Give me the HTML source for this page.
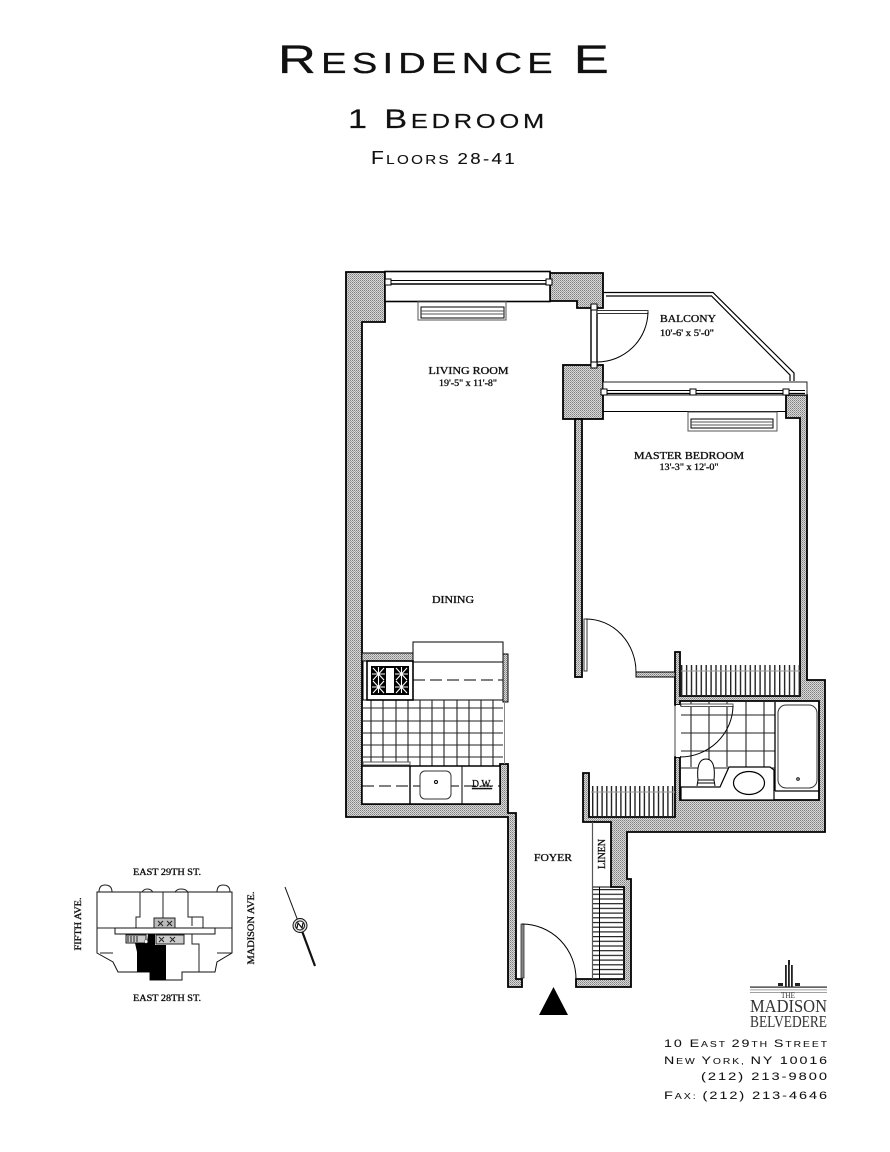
<!DOCTYPE html>
<html><head><meta charset="utf-8"><style>
html,body{margin:0;padding:0;background:#fff}
svg{display:block}
.t{font-family:"Liberation Sans",sans-serif;fill:#111;stroke:#111;stroke-width:.3}
.s{font-family:"Liberation Serif",serif;fill:#111;stroke:#111;stroke-width:.35}
</style></head><body>
<svg width="890" height="1152" viewBox="0 0 890 1152" xmlns="http://www.w3.org/2000/svg">
<defs>
<pattern id="g" width="2" height="2" patternUnits="userSpaceOnUse"><rect width="2" height="2" fill="#d8d8d8"/><rect width="1" height="1" fill="#808080"/><rect x="1" y="1" width="1" height="1" fill="#a0a0a0"/></pattern>
<pattern id="v5" x="681" width="4.9" height="10" patternUnits="userSpaceOnUse"><rect width="1.400" height="10" fill="#222"/></pattern>
<pattern id="v4" x="592" width="4.7" height="10" patternUnits="userSpaceOnUse"><rect width="1.400" height="10" fill="#222"/></pattern>
<pattern id="h4" y="889" width="10" height="4.7" patternUnits="userSpaceOnUse"><rect width="10" height="1.200" fill="#222"/></pattern>
</defs>
<rect width="890" height="1152" fill="#fff"/>

<!-- titles -->
<text class="t" x="278" y="73" textLength="336" lengthAdjust="spacingAndGlyphs" font-size="29" letter-spacing="4"><tspan font-size="40">R</tspan>ESIDENCE <tspan font-size="40">E</tspan></text>
<text class="t" style="stroke-width:.2" x="348" y="128" textLength="200" lengthAdjust="spacingAndGlyphs" font-size="20" letter-spacing="3"><tspan font-size="27">1 B</tspan>EDROOM</text>
<text class="t" style="stroke-width:.1" x="371" y="164" textLength="146" lengthAdjust="spacingAndGlyphs" font-size="13" letter-spacing="2"><tspan font-size="18">F</tspan>LOORS <tspan font-size="16">28-41</tspan></text>

<g stroke="#000" stroke-width="1.8" fill="url(#g)">
<polygon points="346,272 385,272 385,322 362,322 362,804 500,804 500,764 508,764 508,813 516,813 516,979 522,979 522,987 508,987 508,817 346,817"/>
<polygon points="786,395 807,395 807,680 825,680 825,832 627,832 627,879 631,879 631,987 576,987 576,979 624,979 624,887 611,887 611,822 583,822 583,773 589,773 589,817 675,817 675,757 680,757 680,800 819,800 819,701 680,701 680,705 675,705 675,652 680,652 680,696 800,696 800,418 786,418"/>
<polygon points="550,273 603,273 603,308 577,308 577,301 550,301"/>
<rect x="563" y="365" width="40" height="54"/>
<rect x="575" y="419" width="7" height="258"/>
<rect x="636" y="672" width="39" height="5" stroke-width="1"/>
<rect x="362" y="653" width="51" height="8" stroke-width="1"/>
<rect x="503" y="654" width="5" height="48" stroke-width="1"/>
</g>

<g fill="none" stroke="#000" stroke-width="1">
<rect x="385" y="271.500" width="165" height="30" fill="#fff" stroke-width="1.600"/>
<line x1="389" y1="280.500" x2="548" y2="280.500"/><line x1="389" y1="284" x2="548" y2="284" stroke-width="1.500"/>
<rect x="385" y="279" width="6" height="6" fill="#fff"/><rect x="546" y="279" width="6" height="6" fill="#fff"/>
<rect x="418" y="301" width="88" height="19" stroke="#555"/>
<rect x="421" y="307" width="83" height="11"/>
<line x1="421" y1="311" x2="504" y2="311" stroke="#555"/><line x1="421" y1="314" x2="504" y2="314" stroke="#555"/>
<rect x="591" y="306" width="6" height="60" fill="#fff" stroke-width="1.400"/>
<rect x="591" y="304" width="6" height="6" fill="#fff"/><rect x="591" y="362" width="6" height="6" fill="#fff"/>
<rect x="597" y="310.500" width="51" height="3" fill="#fff" stroke="#333"/>
<path d="M648 312 A51 51 0 0 1 597 362"/>
<path d="M604 292.500 H713 L794 373 V381" stroke-width="1.200"/>
<path d="M606 296 H711.500 L790 375 V381" stroke-width="1.200"/>
<rect x="603" y="382" width="204" height="13" fill="#fff" stroke-width="1" stroke="#222"/>
<line x1="603" y1="411.500" x2="786" y2="411.500"/>
<line x1="603" y1="390.500" x2="805" y2="390.500"/><line x1="603" y1="393.500" x2="805" y2="393.500" stroke-width="1.300"/>
<rect x="601" y="389" width="6" height="6" fill="#fff"/><rect x="690" y="389" width="6" height="6" fill="#fff"/><rect x="783" y="389" width="6" height="6" fill="#fff"/>
<rect x="688" y="412" width="89" height="19" stroke="#555"/>
<rect x="691" y="419" width="82" height="9"/>
<line x1="691" y1="422" x2="773" y2="422" stroke="#555"/><line x1="691" y1="425" x2="773" y2="425" stroke="#555"/>
<rect x="584" y="619" width="3" height="52" fill="#fff" stroke="#333"/>
<path d="M586 619 A50 53 0 0 1 636 672"/>
<rect x="413" y="642" width="90" height="58"/>
<line x1="413" y1="662" x2="503" y2="662"/>
<line x1="413" y1="680" x2="503" y2="680" stroke-dasharray="12 5"/>
<rect x="363" y="661" width="50" height="39"/>
<path d="M371 700V766M383 700V766M396 700V766M408 700V766M420 700V766M432 700V766M444 700V766M457 700V766M469 700V766M481 700V766M493 700V766M362 708H503M362 721H503M362 733H503M362 745H503M362 757H503" stroke="#222" stroke-width="1.100"/>
<line x1="504.500" y1="702" x2="504.500" y2="764" stroke="#888"/>
<rect x="362" y="766" width="138" height="38" fill="#fff" stroke-width="1.500"/>
<rect x="363" y="762" width="47" height="3" fill="#fff" stroke="#555"/>
<line x1="410" y1="766" x2="410" y2="804" stroke-width="1.400"/>
<line x1="462" y1="766" x2="462" y2="804"/>
<line x1="362" y1="786" x2="500" y2="786" stroke-dasharray="12 5"/>
<rect x="420" y="771" width="31" height="28" rx="5" fill="#fff" stroke="#333"/>
<circle cx="436" cy="782" r="1.500"/>
</g>
<rect x="367" y="661" width="46" height="39" fill="#fff" stroke="#000" stroke-width="1.600"/>
<rect x="371" y="666" width="38" height="29" fill="#000"/>
<rect x="386" y="668" width="8" height="25" fill="#fff"/>
<g stroke="#fff" stroke-width="1.100" fill="none">
<path d="M373 668L384 680M384 668L373 680M378.500 667V693M372 674H385M372 687H385M373 681L384 693M384 681L373 693"/>
<path d="M396 668L407 680M407 668L396 680M401.500 667V693M395 674H408M395 687H408M396 681L407 693M407 681L396 693"/>
</g>

<rect x="681" y="665" width="119" height="31" fill="url(#v5)"/>
<line x1="681" y1="671" x2="800" y2="671" stroke="#999"/>
<rect x="591" y="786" width="84" height="31" fill="url(#v4)"/>
<line x1="591" y1="792" x2="675" y2="792" stroke="#999"/>
<rect x="593" y="889" width="31" height="90" fill="url(#h4)"/>
<line x1="599.500" y1="887" x2="599.500" y2="979" stroke="#000"/>
<line x1="592.500" y1="822" x2="592.500" y2="979" stroke="#555" stroke-width="1.200"/>
<line x1="593" y1="887" x2="624" y2="887" stroke="#000"/>

<g fill="none" stroke="#000" stroke-width="1">
<path d="M691 701V767M709 701V767M727 701V767M746 701V767M764 701V767M681 715H775M681 733H775M681 751H775M681 768H775" stroke="#222" stroke-width="1.100"/>
<line x1="775" y1="702" x2="775" y2="791" stroke-width="1.300"/>
<line x1="775" y1="791" x2="819" y2="791" stroke-width="1.300"/>
<rect x="778" y="705" width="39" height="83" rx="8" fill="#fff" stroke="#333"/>
<circle cx="798" cy="779" r="1.300"/>
<rect x="681" y="704" width="52" height="2.500" fill="#fff" stroke="#555"/>
<path d="M733 706 A53 52 0 0 1 680 757"/>
<path d="M681 787 H720 L729 767 H770 L774 770 V800 H681 Z" fill="#fff" stroke-width="1.200"/>
<ellipse cx="749" cy="783" rx="15.500" ry="11.500" fill="#fff" stroke-width="1.200"/>
<path d="M698 780 Q696 759 706 759 Q716 759 714 780 Z" fill="#fff"/>
<path d="M698 780 L697 786 M714 780 L715 786 M698 783 H714"/>
</g>
<rect x="676" y="705" width="4" height="52" fill="#fff"/>
<line x1="675" y1="705" x2="675" y2="757" stroke="#444"/>

<rect x="521" y="924" width="3" height="54" fill="#888" stroke="#333" stroke-width=".8"/>
<path d="M522 924 A54 55 0 0 1 576 979" fill="none" stroke="#000"/>
<polygon points="553.500,987 539,1015 568,1015" fill="#000"/>

<g class="s">
<text x="468.500" y="374" text-anchor="middle" font-size="10.500" textLength="80" lengthAdjust="spacingAndGlyphs">LIVING ROOM</text>
<text x="468" y="386" text-anchor="middle" font-size="9.500" textLength="58" lengthAdjust="spacingAndGlyphs">19'-5" x 11'-8"</text>
<text x="688" y="322" text-anchor="middle" font-size="10.500" textLength="56" lengthAdjust="spacingAndGlyphs">BALCONY</text>
<text x="687" y="336" text-anchor="middle" font-size="9.500" textLength="54" lengthAdjust="spacingAndGlyphs">10'-6' x 5'-0"</text>
<text x="689" y="459" text-anchor="middle" font-size="10.500" textLength="110" lengthAdjust="spacingAndGlyphs">MASTER BEDROOM</text>
<text x="689" y="470" text-anchor="middle" font-size="9.500" textLength="59" lengthAdjust="spacingAndGlyphs">13'-3" x 12'-0"</text>
<text x="453" y="603" text-anchor="middle" font-size="10.500" textLength="42" lengthAdjust="spacingAndGlyphs">DINING</text>
<text x="553" y="861" text-anchor="middle" font-size="10.500" textLength="38" lengthAdjust="spacingAndGlyphs">FOYER</text>
<text transform="translate(605,854) rotate(-90)" text-anchor="middle" font-size="10" textLength="30" lengthAdjust="spacingAndGlyphs">LINEN</text>
<text x="482" y="787" text-anchor="middle" font-size="11" textLength="20" lengthAdjust="spacingAndGlyphs" text-decoration="underline">D.W.</text>
<text x="167" y="875" text-anchor="middle" font-size="9.500" textLength="68" lengthAdjust="spacingAndGlyphs">EAST 29TH ST.</text>
<text x="167" y="1001" text-anchor="middle" font-size="9.500" textLength="68" lengthAdjust="spacingAndGlyphs">EAST 28TH ST.</text>
<text transform="translate(81,924) rotate(-90)" text-anchor="middle" font-size="9.500" textLength="53" lengthAdjust="spacingAndGlyphs">FIFTH AVE.</text>
<text transform="translate(254,928) rotate(-90)" text-anchor="middle" font-size="9.500" textLength="73" lengthAdjust="spacingAndGlyphs">MADISON AVE.</text>
</g>

<g fill="none" stroke="#222" stroke-width="1">
<path d="M99 892 Q99 885 105 885 Q112 885 112 892M217 892 Q217 885 223 885 Q230 885 230 892M142 892 Q144 889 147 889 Q152 889 153 893M175 892 Q177 889 181 889 Q187 889 188 893"/>
<polygon points="97,892 232,892 232,953 217,962 215,972 182,972 182,980 150,980 150,972 118,972 113,962 97,953" fill="#fff" stroke="#111"/>
<path d="M97 928H115M215 928H232M163 892V918M140 892V917H136V928M188 892V917H192V926M192 917H203V928M192 934V944H199V972M100 953H113M217 953H232"/>
<rect x="115" y="928" width="100" height="6" fill="#fff" stroke="#111"/>
<rect x="154" y="918" width="21" height="10" fill="#bbb"/>
<rect x="126" y="935" width="20" height="8" fill="#ccc"/>
<rect x="156" y="935" width="28" height="9" fill="#ccc"/>
<path d="M158 921l5 5m0-5l-5 5M167 921l5 5m0-5l-5 5M159 937l5 5m0-5l-5 5M170 937l5 5m0-5l-5 5M128 936v6M131 936v6M134 936v6M137 936v6" stroke="#222"/>
</g>
<polygon points="148,934 155,934 155,945 166,945 166,980 150,980 150,972 137,972 137,952 135,943 147,943" fill="#000"/>
<circle cx="146" cy="941.500" r="1.800" fill="#fff" stroke="#333" stroke-width=".5"/>
<g fill="none" stroke="#111">
<line x1="285" y1="887" x2="298" y2="921" stroke-width="1"/>
<line x1="302" y1="931" x2="315" y2="966" stroke-width="2.200"/>
<circle cx="300" cy="925.500" r="7" fill="#ddd" stroke-width="1"/>
<circle cx="300" cy="925.500" r="4.500" fill="#fff" stroke-width="1"/>
<path d="M297 928L298 923L302 928L303 923" stroke-width="1.200"/>
</g>

<g fill="#222">
<rect x="750" y="986.500" width="77" height="1.200"/>
<rect x="750" y="989.500" width="77" height=".8" fill="#888"/>
<rect x="750" y="992" width="77" height=".8" fill="#888"/>
<rect x="788" y="960" width="2" height="5"/>
<rect x="785" y="965" width="1.800" height="22"/>
<rect x="788" y="964" width="1.800" height="23"/>
<rect x="791" y="965" width="1.800" height="22"/>
<rect x="778" y="983" width="5" height="3"/><rect x="795" y="983" width="5" height="3"/>
</g>
<g font-family="'Liberation Serif',serif" fill="#333" text-anchor="middle">
<text x="788" y="998" font-size="8.500" textLength="14" lengthAdjust="spacingAndGlyphs">THE</text>
<text x="788.500" y="1012" font-size="18" textLength="77" lengthAdjust="spacingAndGlyphs">MADISON</text>
<text x="788.500" y="1027" font-size="17" textLength="77" lengthAdjust="spacingAndGlyphs">BELVEDERE</text>
</g>
<g class="t" style="stroke-width:.05" font-size="8" letter-spacing="1.500">
<text x="664" y="1047" textLength="165" lengthAdjust="spacingAndGlyphs"><tspan font-size="11">10 E</tspan>AST <tspan font-size="11">29</tspan>TH <tspan font-size="11">S</tspan>TREET</text>
<text x="664" y="1064" textLength="165" lengthAdjust="spacingAndGlyphs"><tspan font-size="11">N</tspan>EW <tspan font-size="11">Y</tspan>ORK, <tspan font-size="11">NY 10016</tspan></text>
<text x="701" y="1080" textLength="128" lengthAdjust="spacingAndGlyphs" font-size="11">(212) 213-9800</text>
<text x="664" y="1099" textLength="165" lengthAdjust="spacingAndGlyphs"><tspan font-size="11">F</tspan>AX: <tspan font-size="11">(212) 213-4646</tspan></text>
</g>
</svg>
</body></html>
